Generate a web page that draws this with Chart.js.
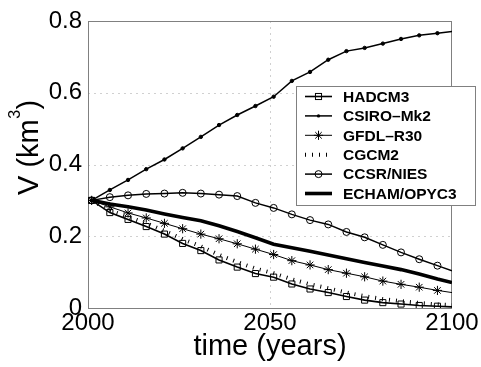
<!DOCTYPE html>
<html>
<head>
<meta charset="utf-8">
<script src="https://cdn.jsdelivr.net/npm/chart.js@4/dist/chart.umd.min.js"></script>
<style>
  html, body { margin: 0; padding: 0; background: #fff; }
  canvas { display: block; }
</style>
</head>
<body>
<canvas id="c" width="481" height="367"></canvas>
<script>
// Simulated glacier volume (km^3) per climate model, 2001-2100
const years  = [2001, 2006, 2011, 2016, 2021, 2026, 2031, 2036, 2041, 2046, 2051, 2056, 2061, 2066, 2071, 2076, 2081, 2086, 2091, 2096, 2100];
const hadcm3 = [0.300, 0.266, 0.247, 0.227, 0.206, 0.180, 0.160, 0.134, 0.114, 0.096, 0.086, 0.067, 0.053, 0.043, 0.032, 0.022, 0.015, 0.011, 0.007, 0.005, 0.003];
const csiro  = [0.300, 0.329, 0.357, 0.387, 0.414, 0.445, 0.477, 0.510, 0.538, 0.563, 0.589, 0.633, 0.658, 0.692, 0.716, 0.725, 0.737, 0.750, 0.760, 0.766, 0.771];
const gfdl   = [0.300, 0.282, 0.265, 0.251, 0.236, 0.221, 0.206, 0.193, 0.179, 0.164, 0.149, 0.132, 0.120, 0.107, 0.097, 0.087, 0.075, 0.066, 0.058, 0.049, 0.043];
const cgcm2  = [0.300, 0.272, 0.254, 0.236, 0.215, 0.192, 0.172, 0.148, 0.128, 0.110, 0.097, 0.080, 0.066, 0.055, 0.043, 0.033, 0.025, 0.019, 0.014, 0.010, 0.008];
const ccsr   = [0.300, 0.309, 0.314, 0.318, 0.319, 0.321, 0.319, 0.316, 0.312, 0.293, 0.279, 0.261, 0.245, 0.233, 0.212, 0.197, 0.176, 0.155, 0.136, 0.118, 0.104];
const echam  = [0.300, 0.290, 0.282, 0.273, 0.262, 0.252, 0.243, 0.229, 0.213, 0.196, 0.178, 0.168, 0.158, 0.148, 0.137, 0.127, 0.117, 0.107, 0.095, 0.081, 0.071];

const modelNames = ['HADCM3', 'CSIRO\u2013Mk2', 'GFDL\u2013R30', 'CGCM2', 'CCSR/NIES', 'ECHAM/OPYC3'];
const xTicks = [2000, 2050, 2100];
const yTicks = [0, 0.2, 0.4, 0.6, 0.8];

const FONT = "'Liberation Sans', Arial, Helvetica, sans-serif";
const toPoints = vals => years.map((x, i) => ({ x, y: vals[i] }));
const lastIdx = years.length - 1;
const markerRadius = r => ctx => (ctx.dataIndex === lastIdx ? 0 : r);

const styles = [
  { borderWidth: 1.6, pointStyle: 'rect',   r: 4.3, fill: 'rgba(0,0,0,0)', pw: 1 },
  { borderWidth: 1.5, pointStyle: 'circle', r: 1.7, fill: '#000',          pw: 1 },
  { borderWidth: 1.0, pointStyle: 'star',   r: 4.6, fill: 'rgba(0,0,0,0)', pw: 1 },
  { borderWidth: 4.0, pointStyle: false,    r: 0,   dash: [1, 6] },
  { borderWidth: 1.5, pointStyle: 'circle', r: 3.5, fill: 'rgba(0,0,0,0)', pw: 1 },
  { borderWidth: 3.6, pointStyle: false,    r: 0 }
];
const series = [hadcm3, csiro, gfdl, cgcm2, ccsr, echam];

const datasets = series.map((vals, i) => {
  const s = styles[i];
  return {
    label: modelNames[i],
    data: toPoints(vals),
    borderColor: '#000',
    borderWidth: s.borderWidth,
    borderDash: s.dash || [],
    borderCapStyle: 'butt',
    tension: 0,
    pointStyle: s.pointStyle || 'circle',
    pointRadius: s.r ? markerRadius(s.r) : 0,
    pointHoverRadius: 0,
    pointBorderColor: '#000',
    pointBorderWidth: s.pw || 1,
    pointBackgroundColor: s.fill || '#000'
  };
});

// Box around the axes plus dotted grid lines
const frame = {
  id: 'frame',
  beforeDatasetsDraw(chart) {
    const { ctx, scales: { x, y } } = chart;
    const L = Math.round(x.getPixelForValue(2000)) + 0.5;
    const R = Math.round(x.getPixelForValue(2100)) - 0.5;
    const T = Math.round(y.getPixelForValue(0.8)) + 0.5;
    const B = Math.round(y.getPixelForValue(0)) + 0.5;
    ctx.save();
    ctx.strokeStyle = '#a0a0a0';
    ctx.lineWidth = 1;
    ctx.setLineDash([1, 5]);
    yTicks.slice(1, -1).forEach(v => {
      const py = Math.round(y.getPixelForValue(v)) + 0.5;
      ctx.beginPath(); ctx.moveTo(L, py); ctx.lineTo(R, py); ctx.stroke();
    });
    xTicks.slice(1, -1).forEach(v => {
      const px = Math.round(x.getPixelForValue(v)) + 0.5;
      ctx.beginPath(); ctx.moveTo(px, T); ctx.lineTo(px, B); ctx.stroke();
    });
    ctx.setLineDash([]);
    ctx.strokeStyle = '#808080';
    ctx.strokeRect(L, T, R - L, B - T);
    ctx.restore();
  }
};

// Legend box and axis titles
const annotations = {
  id: 'annotations',
  afterDraw(chart) {
    const { ctx } = chart;
    ctx.save();

    // legend
    const bx = 296.5, by = 86.5, bw = 179, bh = 119;
    ctx.fillStyle = '#fff';
    ctx.fillRect(bx, by, bw, bh);
    ctx.strokeStyle = '#808080';
    ctx.lineWidth = 1;
    ctx.strokeRect(bx, by, bw, bh);

    const x0 = 305, x1 = 332, xm = 318.5;
    ctx.font = 'bold 15.5px ' + FONT;
    ctx.textAlign = 'left';
    ctx.textBaseline = 'middle';
    modelNames.forEach((name, i) => {
      const s = styles[i];
      const ry = 96.5 + i * 19.4;
      ctx.strokeStyle = '#000';
      ctx.fillStyle = '#000';
      ctx.lineWidth = s.borderWidth;
      ctx.lineCap = 'butt';
      ctx.setLineDash(s.dash || []);
      ctx.beginPath(); ctx.moveTo(x0, ry); ctx.lineTo(x1, ry); ctx.stroke();
      ctx.setLineDash([]);
      ctx.lineWidth = 1;
      if (s.pointStyle === 'rect') {
        const h = s.r * Math.SQRT1_2;
        ctx.strokeRect(xm - h, ry - h, 2 * h, 2 * h);
      } else if (s.pointStyle === 'circle') {
        ctx.beginPath(); ctx.arc(xm, ry, s.r, 0, Math.PI * 2);
        if (s.fill === '#000') ctx.fill(); else ctx.stroke();
      } else if (s.pointStyle === 'star') {
        ctx.beginPath();
        for (let k = 0; k < 4; k++) {
          const a = k * Math.PI / 4;
          ctx.moveTo(xm - Math.cos(a) * s.r, ry - Math.sin(a) * s.r);
          ctx.lineTo(xm + Math.cos(a) * s.r, ry + Math.sin(a) * s.r);
        }
        ctx.stroke();
      }
      ctx.fillStyle = '#000';
      ctx.fillText(name, 343, ry + 1);
    });

    // x axis title
    ctx.fillStyle = '#000';
    ctx.font = '29px ' + FONT;
    ctx.textAlign = 'center';
    ctx.textBaseline = 'alphabetic';
    ctx.fillText('time (years)', 270, 355);

    // y axis title with superscript
    ctx.translate(38, 195);
    ctx.rotate(-Math.PI / 2);
    ctx.textAlign = 'left';
    ctx.font = '29px ' + FONT;
    const part1 = 'V (km';
    ctx.fillText(part1, 0, 0);
    const w1 = ctx.measureText(part1).width;
    ctx.font = '16px ' + FONT;
    ctx.fillText('3', w1 + 0.5, -18);
    const w2 = ctx.measureText('3').width;
    ctx.font = '29px ' + FONT;
    ctx.fillText(')', w1 + w2 + 1, 0);
    ctx.restore();
  }
};

new Chart(document.getElementById('c'), {
  type: 'line',
  data: { datasets },
  options: {
    responsive: false,
    animation: false,
    devicePixelRatio: 1,
    layout: { padding: { top: 21, right: 29, left: 0, bottom: 0 } },
    plugins: { legend: { display: false }, tooltip: { enabled: false } },
    scales: {
      x: {
        type: 'linear', min: 2000, max: 2100,
        afterBuildTicks: s => { s.ticks = xTicks.map(v => ({ value: v })); },
        afterFit: s => { s.height = 59; },
        grid: { display: false, drawTicks: false },
        border: { display: false },
        ticks: { color: '#000', padding: 1, maxRotation: 0, autoSkip: false,
                 font: { family: FONT, size: 24 },
                 callback: v => String(v) }
      },
      y: {
        type: 'linear', min: 0, max: 0.8,
        afterBuildTicks: s => { s.ticks = yTicks.map(v => ({ value: v })); },
        afterFit: s => { s.width = 88; },
        grid: { display: false, drawTicks: false },
        border: { display: false },
        ticks: { color: '#000', padding: 6,
                 font: { family: FONT, size: 24 },
                 callback: v => String(+v.toFixed(1)) }
      }
    }
  },
  plugins: [frame, annotations]
});
</script>
</body>
</html>
